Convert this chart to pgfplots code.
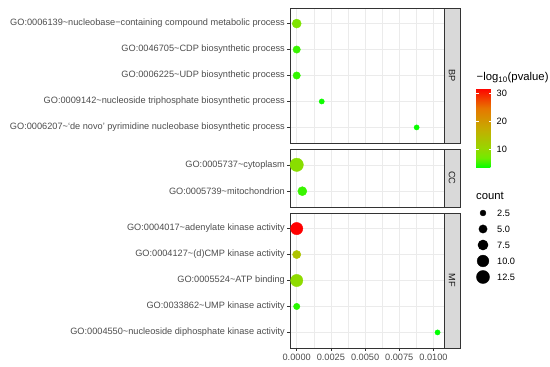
\documentclass[border=0pt]{standalone}
\usepackage{pgfplots}
\pgfplotsset{compat=1.18}
\usepackage{fontspec}
\setmainfont{Liberation Sans}
\definecolor{gthirty}{HTML}{4D4D4D}
\definecolor{gtwenty}{HTML}{333333}
\definecolor{gridc}{HTML}{EBEBEB}
\definecolor{stripc}{HTML}{D9D9D9}
\definecolor{gten}{HTML}{1A1A1A}
\newcommand{\axfont}{\fontsize{9.2}{10}\selectfont}
\newcommand{\ttlfont}{\fontsize{11.3}{12}\selectfont}
\pgfplotsset{
  panel/.style={scale only axis, width=154pt, anchor=south west,
    xmin=-0.00049, xmax=0.01077, y dir=reverse, ymin=0.4,
    xtick={0,0.0025,0.005,0.0075,0.01}, minor x tick num=1, scaled x ticks=false,
    grid=both, major grid style={draw=gridc, line width=0.6pt},
    minor grid style={draw=gridc, line width=0.3pt},
    axis line style={draw=gtwenty, line width=0.5pt},
    tick align=outside, major tick length=2.75pt, minor tick length=0pt,
    tick pos=left, tick style={draw=gtwenty, line width=0.5pt},
    yticklabel style={font=\axfont, text=gthirty, inner sep=0pt, xshift=-2.2pt},
    xticklabel style={font=\axfont, text=gthirty, inner sep=0pt, yshift=-3.5pt},
    point meta min=3.2, point meta max=31.8,
    colormap={gr}{rgb255(0)=(0,255,0) rgb255(1)=(113,235,0) rgb255(2)=(152,214,0) rgb255(4)=(199,170,0) rgb255(6)=(231,118,0) rgb255(8)=(255,0,0)},
  },
  dots/.style={scatter, only marks, mark=*, scatter src=explicit,
    scatter/use mapped color={draw=mapped color, fill=mapped color},
    visualization depends on={1.85*sqrt(\thisrow{count}) \as \rad},
    scatter/@pre marker code/.append style={/tikz/mark size=\rad pt}},
}
\pgfplotstableread{
x y count p
0 1 6 8.0
0 2 4 5.0
0 3 4 4.8
0.00183 4 2 3.6
0.00877 5 2 3.5
}\bpdata
\pgfplotstableread{
x y count p
0 1 13 9.0
0.00041 2 6 5.0
}\ccdata
\pgfplotstableread{
x y count p
0 1 11 31.8
0 2 5 13.5
0 3 11 9.5
0 4 3 4.5
0.0103 5 2 3.2
}\mfdata
\pgfplotstableread{
x y count
0 1 2.5
0 2 5.0
0 3 7.5
0 4 10.0
0 5 12.5
}\sizedata
\begin{document}
\begin{tikzpicture}
\useasboundingbox (0,0) rectangle (550pt,367pt);
% BP
\begin{axis}[panel, at={(290pt,224pt)}, height=135pt, ymax=5.6,
  ytick={1,2,3,4,5}, xticklabels={}, xtick style={draw=none},
  yticklabels={GO:0006139\textasciitilde nucleobase−containing compound metabolic process,
    GO:0046705\textasciitilde CDP biosynthetic process,
    GO:0006225\textasciitilde UDP biosynthetic process,
    GO:0009142\textasciitilde nucleoside triphosphate biosynthetic process,
    GO:0006207\textasciitilde ‘de novo’ pyrimidine nucleobase biosynthetic process},
  colorbar,
  colorbar style={at={(parent axis.north east)}, anchor=north west, xshift=23.5pt, yshift=-80pt,
    scale only axis, width=16pt, height=80pt, ytick={10,20,30}, yticklabels={10,20,30}, yticklabel pos=right,
    ytick pos=both, axis line style={draw=none}, tick align=inside, major tick length=3.2pt,
    ytick style={draw=white, line width=0.6pt}, grid=none,
    /pgf/number format/assume math mode=true,
    yticklabel style={font=\axfont, text=black, inner sep=0pt, xshift=4.5pt, anchor=west},
    title={−log\textsubscript{10}(pvalue)},
    title style={anchor=south west, at={(0,1)}, inner sep=0pt, yshift=-1pt, xshift=0.5pt, font=\ttlfont}},
]
\addplot[dots] table[x=x, y=y, meta=p] {\bpdata};
\end{axis}
% CC
\begin{axis}[panel, at={(290pt,160pt)}, height=58pt, ymax=2.6,
  ytick={1,2}, xticklabels={}, xtick style={draw=none},
  yticklabels={GO:0005737\textasciitilde cytoplasm, GO:0005739\textasciitilde mitochondrion}]
\addplot[dots] table[x=x, y=y, meta=p] {\ccdata};
\end{axis}
% MF
\begin{axis}[panel, at={(290pt,19pt)}, height=135pt, ymax=5.6,
  ytick={1,2,3,4,5},
  xticklabels={0.0000,0.0025,0.0050,0.0075,0.0100},
  yticklabels={GO:0004017\textasciitilde adenylate kinase activity,
    GO:0004127\textasciitilde (d)CMP kinase activity,
    GO:0005524\textasciitilde ATP binding,
    GO:0033862\textasciitilde UMP kinase activity,
    GO:0004550\textasciitilde nucleoside diphosphate kinase activity}]
\addplot[dots] table[x=x, y=y, meta=p] {\mfdata};
\end{axis}
% size legend
\begin{axis}[at={(476pt,82pt)}, anchor=south west, scale only axis, width=14pt, height=80pt,
  xmin=-1, xmax=1, ymin=0.5, ymax=5.5, y dir=reverse, axis line style={draw=none},
  xtick=\empty, ytick={1,2,3,4,5}, yticklabels={2.5,5.0,7.5,10.0,12.5},
  yticklabel pos=right, ytick style={draw=none}, clip=false,
  yticklabel style={anchor=west, inner sep=0pt, xshift=7pt, font=\axfont, text=black},
  title={count}, title style={anchor=south west, at={(0,1)}, inner sep=0pt, yshift=-1pt, font=\ttlfont}]
\addplot[only marks, mark=*, black, visualization depends on={1.85*sqrt(\thisrow{count}) \as \rad},
  scatter, scatter src=explicit, scatter/use mapped color={draw=black, fill=black},
  scatter/@pre marker code/.append style={/tikz/mark size=\rad pt}]
  table[x=x, y=y, meta=count] {\sizedata};
\end{axis}
% strips
\foreach \yb/\yt/\lab in {224/359/BP, 160/218/CC, 19/154/MF}{
  \draw[fill=stripc, draw=gtwenty, line width=0.5pt] (444pt,\yb pt) rectangle (460pt,\yt pt);
  \node[rotate=-90, font=\axfont, text=gten, inner sep=0pt] at (452pt,{(\yb+\yt)/2*1pt}) {\lab};
}
\end{tikzpicture}
\end{document}
